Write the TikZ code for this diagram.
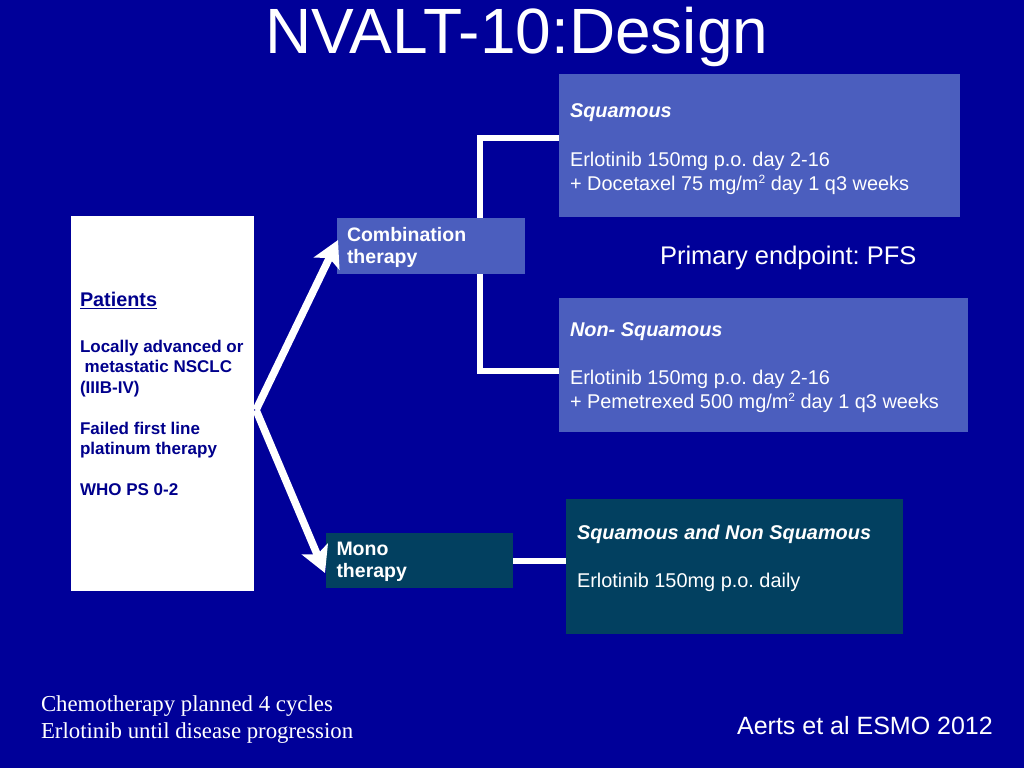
\documentclass[tikz,border=0pt]{standalone}
\usepackage{fontspec}
\setmainfont{Liberation Sans}
\newfontfamily\seriffont{Liberation Serif}
\usetikzlibrary{arrows.meta}
\definecolor{bgblue}{RGB}{0,0,153}
\definecolor{lightbox}{RGB}{75,94,190}
\definecolor{tealbox}{RGB}{2,64,96}
\definecolor{navytext}{RGB}{0,0,140}
\tikzset{
  box/.style={inner sep=0pt, outer sep=0pt, anchor=north west},
  line/.style={inner sep=0pt, outer sep=0pt, anchor=base west, text=white},
  pline/.style={inner sep=0pt, outer sep=0pt, anchor=base west, text=navytext, font=\fontsize{17}{20}\selectfont\bfseries},
  bodyf/.style={font=\fontsize{19.9}{24}\selectfont},
  headf/.style={font=\fontsize{19.9}{24}\selectfont\bfseries\itshape},
  smallb/.style={font=\fontsize{19.5}{22}\selectfont\bfseries},
  conn/.style={draw=white, line width=5.5pt},
  arr/.style={draw=white, line width=7.5pt, -{Stealth[length=26pt,width=28pt,inset=6pt]}}
}
\newcommand{\supr}[1]{\raisebox{0.35em}{\fontsize{12}{12}\selectfont #1}}
\begin{document}
\frenchspacing
\begin{tikzpicture}[x=1pt,y=-1pt]
\useasboundingbox (0,0) rectangle (1024,768);
\fill[bgblue] (0,0) rectangle (1024,768);

% title
\node[inner sep=0pt, anchor=base, text=white, font=\fontsize{64}{70}\selectfont] (title) at (517,53) {NVALT-10:Design};

% connectors behind boxes
\coordinate (vtop) at (480,138);
\coordinate (vbot) at (480,371);
\draw[conn] (559,138) -- (vtop) -- (vbot) -- (559,371);

% boxes
\node[box, fill=white, minimum width=183pt, minimum height=375pt] (pat) at (71,216) {};
\node[box, fill=lightbox, minimum width=188pt, minimum height=56pt] (comb) at (337,218) {};
\node[box, fill=tealbox, minimum width=187pt, minimum height=55pt] (mono) at (326,533) {};
\node[box, fill=lightbox, minimum width=401pt, minimum height=143pt] (sq) at (559,74) {};
\node[box, fill=lightbox, minimum width=409pt, minimum height=134pt] (nsq) at (559,298) {};
\node[box, fill=tealbox, minimum width=337pt, minimum height=135pt] (sns) at (566,499) {};

% mono connector
\draw[conn] (mono.east |- 0,561) -- (sns.west |- 0,561);

% arrows
\coordinate (split) at (256,410);
\draw[arr] (split) -- (338,240);
\draw[arr] (split) -- (325,573);

% patient text
\node[pline, font=\fontsize{19.8}{22}\selectfont\bfseries] (p1) at (80,306.7) {\underline{Patients}};
\node[pline] (p2) at (80,352) {Locally advanced or};
\node[pline] (p3) at (80,372) {\ metastatic NSCLC};
\node[pline] (p4) at (80,393) {(IIIB-IV)};
\node[pline] (p5) at (80,434) {Failed first line};
\node[pline] (p6) at (80,454) {platinum therapy};
\node[pline] (p7) at (80,495) {WHO PS 0-2};

% combination / mono
\node[line, smallb] (c1) at (347,241) {Combination};
\node[line, smallb] (c2) at (347,263.5) {therapy};
\node[line, smallb] (m1) at (336.5,555) {Mono};
\node[line, smallb] (m2) at (336.5,577.5) {therapy};

% squamous
\node[line, headf] (s1) at (570,117.5) {Squamous};
\node[line, bodyf] (s2) at (570,166) {Erlotinib 150mg p.o. day 2-16};
\node[line, bodyf] (s3) at (570,190) {+ Docetaxel 75 mg/m\supr{2} day 1 q3 weeks};

% primary endpoint
\node[line, font=\fontsize{25.5}{28}\selectfont] (pe) at (660,264) {Primary endpoint: PFS};

% non-squamous
\node[line, headf] (n1) at (570,336) {Non- Squamous};
\node[line, bodyf] (n2) at (570,384) {Erlotinib 150mg p.o. day 2-16};
\node[line, bodyf] (n3) at (570,408) {+ Pemetrexed 500 mg/m\supr{2} day 1 q3 weeks};

% squamous and non squamous
\node[line, headf] (b1) at (577,539) {Squamous and Non Squamous};
\node[line, bodyf] (b2) at (577,587) {Erlotinib 150mg p.o. daily};

% footer
\node[line, font=\fontsize{22.8}{27}\selectfont\seriffont] (f1) at (41,711) {Chemotherapy planned 4 cycles};
\node[line, font=\fontsize{22.8}{27}\selectfont\seriffont] (f2) at (41,738) {Erlotinib until disease progression};
\node[inner sep=0pt, anchor=base east, text=white, font=\fontsize{25}{28}\selectfont] (ref) at (993,734) {Aerts et al ESMO 2012};
\end{tikzpicture}
\end{document}
